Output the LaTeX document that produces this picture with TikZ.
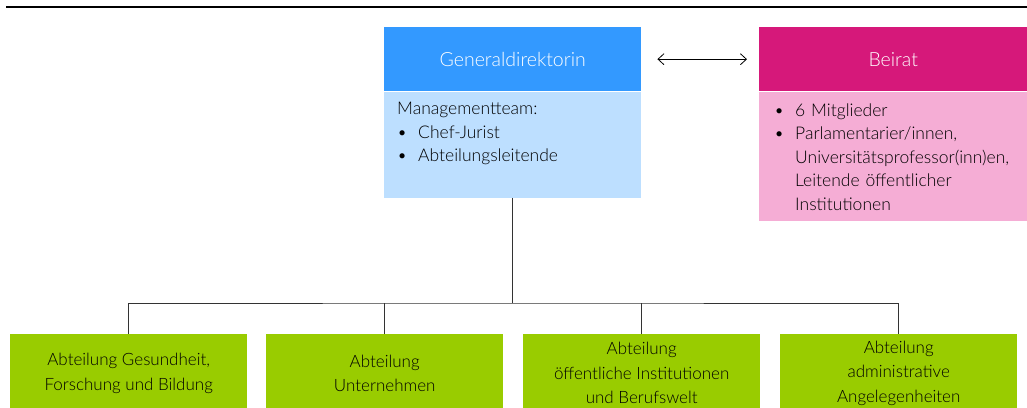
\documentclass[tikz,border=0pt]{standalone}
\usepackage{fontspec}
\IfFontExistsTF{Lato Light}{\setmainfont{Lato Light}}{\setmainfont{Lato}}
\usepackage{tikz}
\usetikzlibrary{positioning,arrows.meta}
\definecolor{kopfblau}{HTML}{3399FF}
\definecolor{hellblau}{HTML}{BDDFFF}
\definecolor{kopfrot}{HTML}{D6187A}
\definecolor{hellrosa}{HTML}{F5ADD5}
\definecolor{gruen}{HTML}{99CC00}
\definecolor{linie}{HTML}{333333}
\newcommand{\punkt}[1]{\noindent\hbox to 21pt{\textbullet\hfil}#1}
\newcommand{\folge}[1]{\par\noindent\hspace*{21pt}#1}

\begin{document}
\begin{tikzpicture}[x=1pt,y=-1pt,
  kopf/.style={inner sep=0pt,minimum height=64pt,text=white,font=\fontsize{19.5}{22}\selectfont},
  koerper/.style={inner sep=0pt,minimum height=#1},
  liste/.style={inner sep=0pt,text width=250pt,align=left,text=black,font=\fontsize{17.5}{23.5}\selectfont},
  abteilung/.style={fill=gruen,inner sep=0pt,minimum width=237pt,minimum height=78pt,align=center,text=black,font=\fontsize{17}{24.5}\selectfont},
  verbinder/.style={draw=linie,line width=0.9pt},
  pfeil/.style={line width=0.8pt,{Straight Barb[length=6pt,width=11pt]}-{Straight Barb[length=6pt,width=11pt]}}]
\useasboundingbox (0,0) rectangle (1027,407);
\clip (0,0) rectangle (1027,407);
\draw[line width=1.6pt] (6,7)--(1027,7);

\node[kopf,fill=kopfblau,minimum width=257pt,anchor=north west] (gdKopf) at (384,27) {Generaldirektorin};
\node[koerper=106pt,fill=hellblau,minimum width=257pt,anchor=north] (gdKoerper) at (gdKopf.south) {};
\node[liste,anchor=north west] (gdListe) at ([xshift=13pt,yshift=-11pt]gdKoerper.north west)
  {Managementteam:\par\punkt{Chef-Jurist}\par\punkt{Abteilungsleitende}};

\node[kopf,fill=kopfrot,minimum width=280pt,anchor=north west] (brKopf) at (759,27) {\hspace*{-12pt}Beirat};
\node[koerper=129pt,fill=hellrosa,minimum width=280pt,anchor=north] (brKoerper) at (brKopf.south) {};
\node[liste,anchor=north west] (brListe) at ([xshift=15pt,yshift=-12pt]brKoerper.north west)
  {\punkt{6 Mitglieder}\par\punkt{Parlamentarier/innen,}\folge{Universitätsprofessor(inn)en,}\folge{Leitende öffentlicher}\folge{Institutionen}};

\draw[pfeil,shorten <=16pt,shorten >=12pt] (gdKopf.east)--(brKopf.west);

\node[abteilung,anchor=north west] (abt1) at (10,334) {Abteilung Gesundheit,\\Forschung und Bildung};
\node[abteilung,anchor=north west] (abt2) at (266,334) {Abteilung\\Unternehmen};
\node[abteilung,anchor=north west] (abt3) at (523,334) {Abteilung\\öffentliche Institutionen\\und Berufswelt};
\node[abteilung,anchor=north west] (abt4) at (780,334) {Abteilung\\administrative\\Angelegenheiten};

\coordinate (bus) at (513,303);
\draw[verbinder] (gdKoerper.south)--(gdKoerper.south |- bus);
\draw[verbinder] (abt1.north) |- (bus) -| (abt4.north);
\draw[verbinder] (abt2.north)--(abt2.north |- bus);
\draw[verbinder] (abt3.north)--(abt3.north |- bus);
\end{tikzpicture}
\end{document}
